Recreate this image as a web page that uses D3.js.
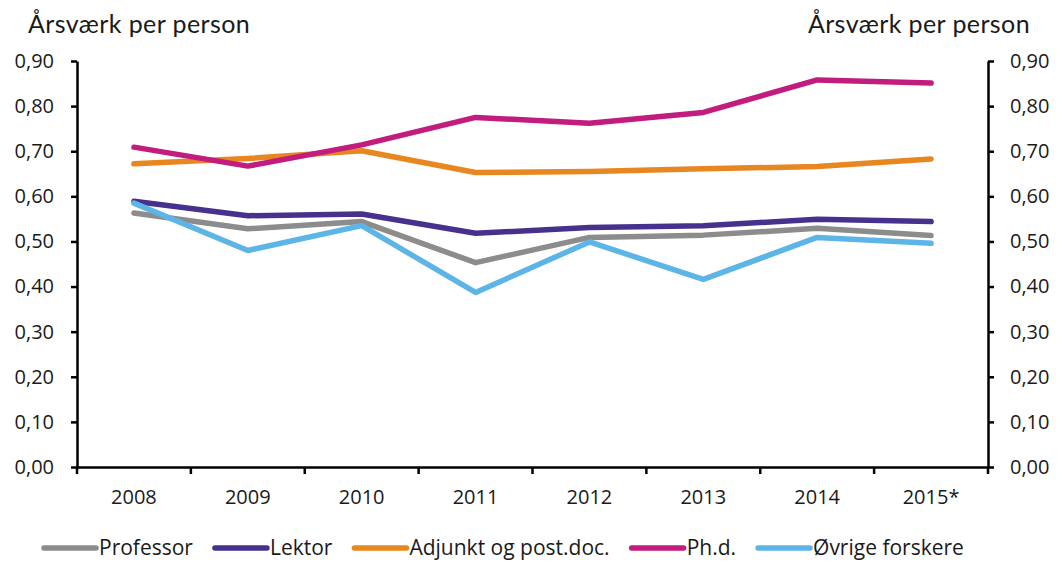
<!DOCTYPE html>
<html>
<head>
<meta charset="utf-8">
<script src="https://cdnjs.cloudflare.com/ajax/libs/d3/7.8.5/d3.min.js"></script>
<style>
  body { margin: 0; background: #fff; }
  svg text { font-family: "Open Sans", sans-serif; fill: #1a1a1a; }
</style>
</head>
<body>
<svg id="chart"></svg>
<script>
var years = ["2008", "2009", "2010", "2011", "2012", "2013", "2014", "2015*"];
var yTicks = [0, 0.1, 0.2, 0.3, 0.4, 0.5, 0.6, 0.7, 0.8, 0.9];

var professor = [0.563, 0.528, 0.544, 0.453, 0.509, 0.514, 0.529, 0.513];
var lektor    = [0.589, 0.557, 0.561, 0.518, 0.531, 0.535, 0.549, 0.544];
var adjunkt   = [0.672, 0.684, 0.701, 0.653, 0.655, 0.661, 0.666, 0.683];
var phd       = [0.709, 0.667, 0.714, 0.775, 0.762, 0.786, 0.858, 0.851];
var ovrige    = [0.585, 0.480, 0.535, 0.387, 0.499, 0.416, 0.509, 0.496];

var seriesNames  = ["Professor", "Lektor", "Adjunkt og post.doc.", "Ph.d.", "Øvrige forskere"];
var seriesValues = [professor, lektor, adjunkt, phd, ovrige];
var seriesColors = ["#8c8c8c", "#46318d", "#e8861f", "#c21c7e", "#5cb5e6"];

var width = 1064;
var height = 563;
var margin = {left: 77, right: 76, top: 61, bottom: 96};

var svg = d3.select("#chart")
            .attr("width", width)
            .attr("height", height);

var x = d3.scaleBand()
          .domain(years)
          .range([margin.left, width - margin.right]);

var y = d3.scaleLinear()
          .domain([0, 0.9])
          .range([height - margin.bottom, margin.top]);

var fmt = function(d) { return d3.format(".2f")(d).replace(".", ","); };

// y axes, left and right
svg.append("g")
   .attr("transform", "translate(" + margin.left + ",0)")
   .call(d3.axisLeft(y).tickValues(yTicks).tickFormat(fmt).tickSize(6).tickSizeOuter(0).tickPadding(17));

svg.append("g")
   .attr("transform", "translate(" + (width - margin.right) + ",0)")
   .call(d3.axisRight(y).tickValues(yTicks).tickFormat(fmt).tickSize(6).tickSizeOuter(0).tickPadding(16));

// x axis: labels in the middle of each band, ticks on the band edges
var xAxis = svg.append("g")
   .attr("transform", "translate(0," + (height - margin.bottom) + ")")
   .call(d3.axisBottom(x).tickSize(0).tickSizeOuter(0).tickPadding(23));

var edges = years.map(function(d) { return x(d); }).concat([x.range()[1]]);
xAxis.selectAll(".edge")
   .data(edges)
   .enter()
   .append("line")
   .attr("class", "edge")
   .attr("x1", function(d) { return d; })
   .attr("x2", function(d) { return d; })
   .attr("y1", 0)
   .attr("y2", 7)
   .attr("stroke", "#000")
   .attr("stroke-width", 2.5);

svg.selectAll(".domain").attr("stroke", "#000").attr("stroke-width", 2.5);
svg.selectAll(".tick line").attr("stroke", "#000").attr("stroke-width", 2.5);
svg.selectAll(".tick text")
   .style("font-size", "20px")
   .style("font-family", "'Open Sans', sans-serif")
   .attr("fill", "#1a1a1a");

// titles
svg.append("text")
   .attr("x", 28)
   .attr("y", 33)
   .style("font-family", "Lato, sans-serif")
   .style("font-size", "25px")
   .style("letter-spacing", "0.4px")
   .text("Årsværk per person");

svg.append("text")
   .attr("x", 1030)
   .attr("y", 33)
   .attr("text-anchor", "end")
   .style("font-family", "Lato, sans-serif")
   .style("font-size", "25px")
   .style("letter-spacing", "0.4px")
   .text("Årsværk per person");

// lines
var line = d3.line()
   .x(function(d, i) { return x(years[i]) + x.bandwidth() / 2; })
   .y(function(d) { return y(d); });

svg.selectAll(".series")
   .data(seriesValues)
   .enter()
   .append("path")
   .attr("class", "series")
   .attr("d", function(d) { return line(d); })
   .attr("fill", "none")
   .attr("stroke", function(d, i) { return seriesColors[i]; })
   .attr("stroke-width", 5.5)
   .attr("stroke-linecap", "round")
   .attr("stroke-linejoin", "round");

// legend
var legend = svg.append("g").attr("transform", "translate(0,548)");
var lx = 44;
seriesNames.forEach(function(name, i) {
  legend.append("line")
     .attr("x1", lx)
     .attr("x2", lx + 52)
     .attr("y1", 0)
     .attr("y2", 0)
     .attr("stroke", seriesColors[i])
     .attr("stroke-width", 5.5)
     .attr("stroke-linecap", "round");
  var t = legend.append("text")
     .attr("x", lx + 55)
     .attr("y", 7)
     .style("font-size", "21px")
     .text(name);
  lx = lx + 55 + t.node().getComputedTextLength() + 22;
});
</script>
</body>
</html>
